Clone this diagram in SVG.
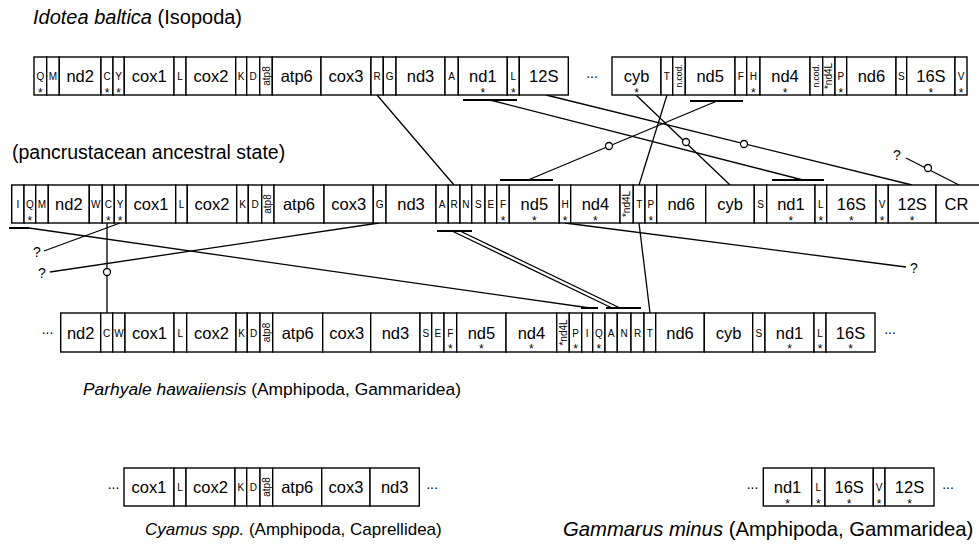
<svg xmlns="http://www.w3.org/2000/svg" width="979" height="550" viewBox="0 0 979 550">
<style>
text{font-family:"Liberation Sans",Arial,sans-serif;fill:#000}
.b{fill:#fff;stroke:#000;stroke-width:1.4}
.g{font-size:16.5px;text-anchor:middle}
.t{font-size:10px;text-anchor:middle}
.s{font-size:12px;text-anchor:middle}
.r{font-size:10px;text-anchor:middle;dominant-baseline:central}
.rc{font-size:8.5px;text-anchor:middle;dominant-baseline:central}
.e{font-size:14px;text-anchor:middle}
.ttl{font-size:17px}
.i{font-style:italic}
.c line{stroke:#000;stroke-width:1.3}
.c .u{stroke-width:2}
.c circle{fill:#fff;stroke:#000;stroke-width:1.3}
.q{font-size:14px;text-anchor:middle}
</style>

<text class="ttl" x="33" y="24" style="font-size:20px"><tspan class="i">Idotea baltica</tspan> (Isopoda)</text>
<text class="ttl" x="12" y="159" style="font-size:19.5px">(pancrustacean ancestral state)</text>
<text class="ttl" x="83" y="395" style="font-size:17.4px"><tspan class="i">Parhyale hawaiiensis</tspan> (Amphipoda, Gammaridea)</text>
<text class="ttl" x="145" y="535"><tspan class="i">Cyamus spp.</tspan> (Amphipoda, Caprellidea)</text>
<text class="ttl" x="563" y="536" style="font-size:20.3px"><tspan class="i">Gammarus minus</tspan> (Amphipoda, Gammaridea)</text>

<!-- connectors -->
<g id="connectors" class="c">
<line x1="377" y1="95" x2="454" y2="185"/>
<line class="u" x1="463" y1="100" x2="517" y2="100"/>
<line x1="490" y1="100" x2="803" y2="180"/>
<line class="u" x1="772" y1="180" x2="824" y2="180"/>
<line x1="546" y1="95" x2="912" y2="185"/>
<line x1="636" y1="95" x2="730" y2="185"/>
<line x1="667" y1="95" x2="639" y2="185"/>
<line x1="639" y1="223" x2="650" y2="313"/>
<line class="u" x1="690" y1="101" x2="743" y2="101"/>
<line x1="717" y1="101" x2="528" y2="180"/>
<line class="u" x1="500" y1="180" x2="553" y2="180"/>
<line x1="906" y1="158" x2="959" y2="185"/>
<line class="u" x1="9" y1="228" x2="29" y2="228"/>
<line x1="29" y1="228" x2="590" y2="308"/>
<line class="u" x1="581" y1="308" x2="598" y2="308"/>
<line x1="120" y1="223" x2="44" y2="251"/>
<line x1="107" y1="223" x2="107" y2="313"/>
<line x1="379" y1="223" x2="50" y2="272"/>
<line class="u" x1="437" y1="231" x2="472" y2="231"/>
<line x1="452" y1="231" x2="612" y2="308"/>
<line x1="460" y1="231" x2="620" y2="308"/>
<line class="u" x1="606" y1="308" x2="641" y2="308"/>
<line x1="565" y1="223" x2="906" y2="267"/>
<circle cx="744" cy="144" r="3.5"/>
<circle cx="686" cy="142" r="3.5"/>
<circle cx="609" cy="146" r="3.5"/>
<circle cx="928" cy="168" r="3.5"/>
<circle cx="107" cy="272" r="3.5"/>
</g>
<text class="q" x="897" y="160">?</text>
<text class="q" x="37" y="257">?</text>
<text class="q" x="42" y="278">?</text>
<text class="q" x="914" y="273">?</text>

<!-- Row 1: Idotea baltica -->
<g id="idotea" transform="translate(0,57)">
<g id="i-Q"><rect class="b" x="34" y="0" width="12.7" height="38"/><text class="t" x="40.4" y="23">Q</text><text class="s" x="40.4" y="39.5">*</text></g>
<g id="i-M"><rect class="b" x="46.7" y="0" width="12.6" height="38"/><text class="t" x="53" y="23">M</text></g>
<g id="i-nd2"><rect class="b" x="59.3" y="0" width="41.7" height="38"/><text class="g" x="80.2" y="25">nd2</text></g>
<g id="i-C"><rect class="b" x="101" y="0" width="12" height="38"/><text class="t" x="107" y="23">C</text><text class="s" x="107" y="39.5">*</text></g>
<g id="i-Y"><rect class="b" x="113" y="0" width="11.3" height="38"/><text class="t" x="118.7" y="23">Y</text><text class="s" x="118.7" y="39.5">*</text></g>
<g id="i-cox1"><rect class="b" x="124.3" y="0" width="49.7" height="38"/><text class="g" x="149.2" y="25">cox1</text></g>
<g id="i-L1"><rect class="b" x="174" y="0" width="12" height="38"/><text class="t" x="180" y="23">L</text></g>
<g id="i-cox2"><rect class="b" x="186" y="0" width="49.7" height="38"/><text class="g" x="210.9" y="25">cox2</text></g>
<g id="i-K"><rect class="b" x="235.7" y="0" width="11" height="38"/><text class="t" x="241.2" y="23">K</text></g>
<g id="i-D"><rect class="b" x="246.7" y="0" width="13" height="38"/><text class="t" x="253.2" y="23">D</text></g>
<g id="i-atp8"><rect class="b" x="259.7" y="0" width="12.6" height="38" stroke-width="2"/><text class="r" transform="translate(266,19) rotate(-90)">atp8</text></g>
<g id="i-atp6"><rect class="b" x="272.3" y="0" width="48.7" height="38"/><text class="g" x="296.7" y="25">atp6</text></g>
<g id="i-cox3"><rect class="b" x="321" y="0" width="50" height="38"/><text class="g" x="346" y="25">cox3</text></g>
<g id="i-R"><rect class="b" x="371" y="0" width="12.3" height="38"/><text class="t" x="377.2" y="23">R</text></g>
<g id="i-G"><rect class="b" x="383.3" y="0" width="12.7" height="38"/><text class="t" x="389.7" y="23">G</text></g>
<g id="i-nd3"><rect class="b" x="396" y="0" width="49" height="38"/><text class="g" x="420.5" y="25">nd3</text></g>
<g id="i-A"><rect class="b" x="445" y="0" width="13.3" height="38"/><text class="t" x="451.7" y="23">A</text></g>
<g id="i-nd1"><rect class="b" x="458.3" y="0" width="49" height="38"/><text class="g" x="482.8" y="25">nd1</text><text class="s" x="482.8" y="39.5">*</text></g>
<g id="i-L2"><rect class="b" x="507.3" y="0" width="12" height="38"/><text class="t" x="513.3" y="23">L</text><text class="s" x="513.3" y="39.5">*</text></g>
<g id="i-12S"><rect class="b" x="519.3" y="0" width="49" height="38"/><text class="g" x="543.8" y="25">12S</text></g>
<text class="e" x="592" y="20.5">...</text>
<g id="i-cyb"><rect class="b" x="612" y="0" width="49" height="38"/><text class="g" x="636.5" y="25">cyb</text><text class="s" x="636.5" y="39.5">*</text></g>
<g id="i-T"><rect class="b" x="661" y="0" width="11.7" height="38"/><text class="t" x="666.9" y="23">T</text></g>
<g id="i-ncod1"><rect class="b" x="672.7" y="0" width="12.6" height="38"/><text class="rc" transform="translate(679,19) rotate(-90)">n.cod.</text></g>
<g id="i-nd5"><rect class="b" x="685.3" y="0" width="49.7" height="38"/><text class="g" x="710.2" y="25">nd5</text></g>
<g id="i-F"><rect class="b" x="735" y="0" width="11.7" height="38"/><text class="t" x="740.9" y="23">F</text></g>
<g id="i-H"><rect class="b" x="746.7" y="0" width="13.3" height="38"/><text class="t" x="753.4" y="23">H</text><text class="s" x="753.4" y="39.5">*</text></g>
<g id="i-nd4"><rect class="b" x="760" y="0" width="50" height="38"/><text class="g" x="785" y="25">nd4</text><text class="s" x="785" y="39.5">*</text></g>
<g id="i-ncod2"><rect class="b" x="810" y="0" width="12.7" height="38"/><text class="rc" transform="translate(816.4,19) rotate(-90)">n.cod.</text></g>
<g id="i-nd4L"><rect class="b" x="822.7" y="0" width="12.3" height="38"/><text class="r" transform="translate(828.9,19) rotate(-90)">*nd4L</text></g>
<g id="i-P"><rect class="b" x="835" y="0" width="11.7" height="38"/><text class="t" x="840.9" y="23">P</text><text class="s" x="840.9" y="39.5">*</text></g>
<g id="i-nd6"><rect class="b" x="846.7" y="0" width="49.3" height="38"/><text class="g" x="871.4" y="25">nd6</text></g>
<g id="i-S"><rect class="b" x="896" y="0" width="10.7" height="38"/><text class="t" x="901.4" y="23">S</text></g>
<g id="i-16S"><rect class="b" x="906.7" y="0" width="48.3" height="38"/><text class="g" x="930.9" y="25">16S</text><text class="s" x="930.9" y="39.5">*</text></g>
<g id="i-V"><rect class="b" x="955" y="0" width="12" height="38"/><text class="t" x="961" y="23">V</text><text class="s" x="961" y="39.5">*</text></g>
</g>

<!-- Row 2: pancrustacean ancestral state -->
<g id="ancestral" transform="translate(0,185)">
<g id="a-I"><rect class="b" x="11.7" y="0" width="12.3" height="38"/><text class="t" x="17.9" y="23">I</text></g>
<g id="a-Q"><rect class="b" x="24" y="0" width="11.7" height="38"/><text class="t" x="29.9" y="23">Q</text><text class="s" x="29.9" y="39.5">*</text></g>
<g id="a-M"><rect class="b" x="35.7" y="0" width="12.6" height="38"/><text class="t" x="42" y="23">M</text></g>
<g id="a-nd2"><rect class="b" x="48.3" y="0" width="41" height="38"/><text class="g" x="68.8" y="25">nd2</text></g>
<g id="a-W"><rect class="b" x="89.3" y="0" width="13" height="38"/><text class="t" x="95.8" y="23">W</text></g>
<g id="a-C"><rect class="b" x="102.3" y="0" width="12" height="38"/><text class="t" x="108.3" y="23">C</text><text class="s" x="108.3" y="39.5">*</text></g>
<g id="a-Y"><rect class="b" x="114.3" y="0" width="11.7" height="38"/><text class="t" x="120.2" y="23">Y</text><text class="s" x="120.2" y="39.5">*</text></g>
<g id="a-cox1"><rect class="b" x="126" y="0" width="49.7" height="38"/><text class="g" x="150.9" y="25">cox1</text></g>
<g id="a-L1"><rect class="b" x="175.7" y="0" width="11.6" height="38"/><text class="t" x="181.5" y="23">L</text></g>
<g id="a-cox2"><rect class="b" x="187.3" y="0" width="49.4" height="38"/><text class="g" x="212" y="25">cox2</text></g>
<g id="a-K"><rect class="b" x="236.7" y="0" width="11.6" height="38"/><text class="t" x="242.5" y="23">K</text></g>
<g id="a-D"><rect class="b" x="248.3" y="0" width="13.4" height="38"/><text class="t" x="255" y="23">D</text></g>
<g id="a-atp8"><rect class="b" x="261.7" y="0" width="12.3" height="38" stroke-width="2"/><text class="r" transform="translate(267.9,19) rotate(-90)">atp8</text></g>
<g id="a-atp6"><rect class="b" x="274" y="0" width="50" height="38"/><text class="g" x="299" y="25">atp6</text></g>
<g id="a-cox3"><rect class="b" x="324" y="0" width="49.3" height="38"/><text class="g" x="348.7" y="25">cox3</text></g>
<g id="a-G"><rect class="b" x="373.3" y="0" width="12.7" height="38" stroke-width="2"/><text class="t" x="379.7" y="23">G</text></g>
<g id="a-nd3"><rect class="b" x="386" y="0" width="50" height="38"/><text class="g" x="411" y="25">nd3</text></g>
<g id="a-A"><rect class="b" x="436" y="0" width="12.3" height="38"/><text class="t" x="442.2" y="23">A</text></g>
<g id="a-R"><rect class="b" x="448.3" y="0" width="11.7" height="38"/><text class="t" x="454.2" y="23">R</text></g>
<g id="a-N"><rect class="b" x="460" y="0" width="11.7" height="38"/><text class="t" x="465.9" y="23">N</text></g>
<g id="a-S1"><rect class="b" x="471.7" y="0" width="13.3" height="38"/><text class="t" x="478.4" y="23">S</text></g>
<g id="a-E"><rect class="b" x="485" y="0" width="11.7" height="38"/><text class="t" x="490.9" y="23">E</text></g>
<g id="a-F"><rect class="b" x="496.7" y="0" width="12.6" height="38"/><text class="t" x="503" y="23">F</text><text class="s" x="503" y="39.5">*</text></g>
<g id="a-nd5"><rect class="b" x="509.3" y="0" width="50" height="38"/><text class="g" x="534.3" y="25">nd5</text><text class="s" x="534.3" y="39.5">*</text></g>
<g id="a-H"><rect class="b" x="559.3" y="0" width="11.4" height="38"/><text class="t" x="565" y="23">H</text><text class="s" x="565" y="39.5">*</text></g>
<g id="a-nd4"><rect class="b" x="570.7" y="0" width="49.3" height="38"/><text class="g" x="595.4" y="25">nd4</text><text class="s" x="595.4" y="39.5">*</text></g>
<g id="a-nd4L"><rect class="b" x="620" y="0" width="13.3" height="38"/><text class="r" transform="translate(626.7,19) rotate(-90)">*nd4L</text></g>
<g id="a-T"><rect class="b" x="633.3" y="0" width="11.7" height="38"/><text class="t" x="639.2" y="23">T</text></g>
<g id="a-P"><rect class="b" x="645" y="0" width="11.7" height="38"/><text class="t" x="650.9" y="23">P</text><text class="s" x="650.9" y="39.5">*</text></g>
<g id="a-nd6"><rect class="b" x="656.7" y="0" width="49" height="38"/><text class="g" x="681.2" y="25">nd6</text></g>
<g id="a-cyb"><rect class="b" x="705.7" y="0" width="48.6" height="38"/><text class="g" x="730" y="25">cyb</text></g>
<g id="a-S2"><rect class="b" x="754.3" y="0" width="12.4" height="38"/><text class="t" x="760.5" y="23">S</text></g>
<g id="a-nd1"><rect class="b" x="766.7" y="0" width="48.3" height="38"/><text class="g" x="790.9" y="25">nd1</text><text class="s" x="790.9" y="39.5">*</text></g>
<g id="a-L2"><rect class="b" x="815" y="0" width="11.7" height="38"/><text class="t" x="820.9" y="23">L</text><text class="s" x="820.9" y="39.5">*</text></g>
<g id="a-16S"><rect class="b" x="826.7" y="0" width="49.3" height="38"/><text class="g" x="851.4" y="25">16S</text><text class="s" x="851.4" y="39.5">*</text></g>
<g id="a-V"><rect class="b" x="876" y="0" width="12.3" height="38"/><text class="t" x="882.2" y="23">V</text><text class="s" x="882.2" y="39.5">*</text></g>
<g id="a-12S"><rect class="b" x="888.3" y="0" width="47.7" height="38"/><text class="g" x="912.2" y="25">12S</text><text class="s" x="912.2" y="39.5">*</text></g>
<g id="a-CR"><rect class="b" x="936" y="0" width="50" height="38"/><text class="g" x="956.5" y="25">CR</text></g>
</g>

<!-- Row 3: Parhyale hawaiiensis -->
<g id="parhyale" transform="translate(0,313)">
<text class="e" x="47.5" y="20.5">...</text>
<g id="p-nd2"><rect class="b" x="60.7" y="0" width="40" height="39"/><text class="g" x="80.7" y="25.5">nd2</text></g>
<g id="p-C"><rect class="b" x="100.7" y="0" width="12" height="39"/><text class="t" x="106.7" y="23.5">C</text></g>
<g id="p-W"><rect class="b" x="112.7" y="0" width="12.3" height="39"/><text class="t" x="118.9" y="23.5">W</text></g>
<g id="p-cox1"><rect class="b" x="125" y="0" width="49" height="39"/><text class="g" x="149.5" y="25.5">cox1</text></g>
<g id="p-L1"><rect class="b" x="174" y="0" width="12.7" height="39"/><text class="t" x="180.4" y="23.5">L</text></g>
<g id="p-cox2"><rect class="b" x="186.7" y="0" width="49.3" height="39"/><text class="g" x="211.4" y="25.5">cox2</text></g>
<g id="p-K"><rect class="b" x="236" y="0" width="11.3" height="39"/><text class="t" x="241.7" y="23.5">K</text></g>
<g id="p-D"><rect class="b" x="247.3" y="0" width="12.7" height="39"/><text class="t" x="253.7" y="23.5">D</text></g>
<g id="p-atp8"><rect class="b" x="260" y="0" width="12.7" height="39" stroke-width="2"/><text class="r" transform="translate(266.4,19.5) rotate(-90)">atp8</text></g>
<g id="p-atp6"><rect class="b" x="272.7" y="0" width="50" height="39"/><text class="g" x="297.7" y="25.5">atp6</text></g>
<g id="p-cox3"><rect class="b" x="322.7" y="0" width="48" height="39"/><text class="g" x="346.7" y="25.5">cox3</text></g>
<g id="p-nd3"><rect class="b" x="370.7" y="0" width="49.3" height="39"/><text class="g" x="395.4" y="25.5">nd3</text></g>
<g id="p-S1"><rect class="b" x="420" y="0" width="11.7" height="39"/><text class="t" x="425.9" y="23.5">S</text></g>
<g id="p-E"><rect class="b" x="431.7" y="0" width="12.3" height="39"/><text class="t" x="437.9" y="23.5">E</text></g>
<g id="p-F"><rect class="b" x="444" y="0" width="12.7" height="39"/><text class="t" x="450.4" y="23.5">F</text><text class="s" x="450.4" y="40">*</text></g>
<g id="p-nd5"><rect class="b" x="456.7" y="0" width="49.3" height="39"/><text class="g" x="481.4" y="25.5">nd5</text><text class="s" x="481.4" y="40">*</text></g>
<g id="p-nd4"><rect class="b" x="506" y="0" width="50.7" height="39"/><text class="g" x="531.4" y="25.5">nd4</text><text class="s" x="531.4" y="40">*</text></g>
<g id="p-nd4L"><rect class="b" x="556.7" y="0" width="12.6" height="39"/><text class="r" transform="translate(563,19.5) rotate(-90)">*nd4L</text></g>
<g id="p-P"><rect class="b" x="569.3" y="0" width="12.4" height="39"/><text class="t" x="575.5" y="23.5">P</text><text class="s" x="575.5" y="40">*</text></g>
<g id="p-I"><rect class="b" x="581.7" y="0" width="11" height="39"/><text class="t" x="587.2" y="23.5">I</text></g>
<g id="p-Q"><rect class="b" x="592.7" y="0" width="12.3" height="39"/><text class="t" x="598.9" y="23.5">Q</text><text class="s" x="598.9" y="40">*</text></g>
<g id="p-A"><rect class="b" x="605" y="0" width="12.3" height="39"/><text class="t" x="611.2" y="23.5">A</text></g>
<g id="p-N"><rect class="b" x="617.3" y="0" width="13.7" height="39"/><text class="t" x="624.2" y="23.5">N</text></g>
<g id="p-R"><rect class="b" x="631" y="0" width="13" height="39"/><text class="t" x="637.5" y="23.5">R</text></g>
<g id="p-T"><rect class="b" x="644" y="0" width="11.7" height="39"/><text class="t" x="649.9" y="23.5">T</text></g>
<g id="p-nd6"><rect class="b" x="655.7" y="0" width="48.6" height="39"/><text class="g" x="680" y="25.5">nd6</text></g>
<g id="p-cyb"><rect class="b" x="704.3" y="0" width="48.4" height="39"/><text class="g" x="728.5" y="25.5">cyb</text></g>
<g id="p-S2"><rect class="b" x="752.7" y="0" width="12.3" height="39"/><text class="t" x="758.9" y="23.5">S</text></g>
<g id="p-nd1"><rect class="b" x="765" y="0" width="49" height="39"/><text class="g" x="789.5" y="25.5">nd1</text><text class="s" x="789.5" y="40">*</text></g>
<g id="p-L2"><rect class="b" x="814" y="0" width="12" height="39"/><text class="t" x="820" y="23.5">L</text><text class="s" x="820" y="40">*</text></g>
<g id="p-16S"><rect class="b" x="826" y="0" width="49" height="39"/><text class="g" x="850.5" y="25.5">16S</text><text class="s" x="850.5" y="40">*</text></g>
<text class="e" x="890" y="20.5">...</text>
</g>

<!-- Row 4a: Cyamus -->
<g id="cyamus" transform="translate(0,468)">
<text class="e" x="113.5" y="20.5">...</text>
<g id="c-cox1"><rect class="b" x="124" y="0" width="50" height="38"/><text class="g" x="149" y="25">cox1</text></g>
<g id="c-L"><rect class="b" x="174" y="0" width="12" height="38"/><text class="t" x="180" y="23">L</text></g>
<g id="c-cox2"><rect class="b" x="186" y="0" width="49" height="38"/><text class="g" x="210.5" y="25">cox2</text></g>
<g id="c-K"><rect class="b" x="235" y="0" width="11.7" height="38"/><text class="t" x="240.9" y="23">K</text></g>
<g id="c-D"><rect class="b" x="246.7" y="0" width="13.3" height="38"/><text class="t" x="253.4" y="23">D</text></g>
<g id="c-atp8"><rect class="b" x="260" y="0" width="12.7" height="38" stroke-width="2"/><text class="r" transform="translate(266.4,19) rotate(-90)">atp8</text></g>
<g id="c-atp6"><rect class="b" x="272.7" y="0" width="49" height="38"/><text class="g" x="297.2" y="25">atp6</text></g>
<g id="c-cox3"><rect class="b" x="321.7" y="0" width="48.3" height="38"/><text class="g" x="345.9" y="25">cox3</text></g>
<g id="c-nd3"><rect class="b" x="370" y="0" width="49.3" height="38"/><text class="g" x="394.7" y="25">nd3</text></g>
<text class="e" x="432" y="20.5">...</text>
</g>

<!-- Row 4b: Gammarus minus -->
<g id="gammarus" transform="translate(0,468)">
<text class="e" x="752.5" y="20.5">...</text>
<g id="g-nd1"><rect class="b" x="763.3" y="0" width="48.4" height="38"/><text class="g" x="787.5" y="25">nd1</text><text class="s" x="787.5" y="39.5">*</text></g>
<g id="g-L"><rect class="b" x="811.7" y="0" width="13.3" height="38"/><text class="t" x="818.4" y="23">L</text><text class="s" x="818.4" y="39.5">*</text></g>
<g id="g-16S"><rect class="b" x="825" y="0" width="48.3" height="38"/><text class="g" x="849.2" y="25">16S</text><text class="s" x="849.2" y="39.5">*</text></g>
<g id="g-V"><rect class="b" x="873.3" y="0" width="11.7" height="38"/><text class="t" x="879.2" y="23">V</text><text class="s" x="879.2" y="39.5">*</text></g>
<g id="g-12S"><rect class="b" x="885" y="0" width="49" height="38"/><text class="g" x="909.5" y="25">12S</text><text class="s" x="909.5" y="39.5">*</text></g>
<text class="e" x="948" y="20.5">...</text>
</g>
</svg>
